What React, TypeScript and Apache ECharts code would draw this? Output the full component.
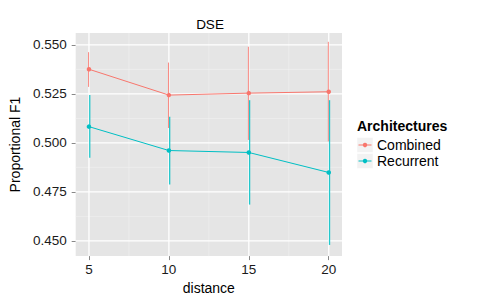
import React, { useEffect, useRef } from "react";
import * as echarts from "echarts";

const distances = [5, 10, 15, 20];
const combinedMean = [0.5376, 0.5244, 0.5254, 0.5261];
const combinedLow = [0.5286, 0.5076, 0.5015, 0.5007];
const combinedHigh = [0.5463, 0.541, 0.5491, 0.5516];
const recurrentMean = [0.5083, 0.4961, 0.4951, 0.4849];
const recurrentLow = [0.4924, 0.4788, 0.4685, 0.4479];
const recurrentHigh = [0.5244, 0.5133, 0.5218, 0.5218];

const seriesNames = ["Combined", "Recurrent"];
const xTicks = [5, 10, 15, 20];
const xMinor = [7.5, 12.5, 17.5];
const yTicks = [0.45, 0.475, 0.5, 0.525, 0.55];
const yMinor = [0.4625, 0.4875, 0.5125, 0.5375];

const X_MIN = 4.17;
const X_MAX = 20.83;
const Y_MIN = 0.4422;
const Y_MAX = 0.5561;

const RED = "#F8766D";
const TEAL = "#00BFC4";
const COLORS = [RED, TEAL];
const FONT = "'Liberation Sans', Arial, Helvetica, sans-serif";

function vLines(values: number[], color: string, width: number, z: number) {
  return {
    type: "custom",
    silent: true,
    z,
    data: values.map((v) => [v, Y_MIN]),
    renderItem: (_p: any, api: any) => {
      const x = api.value(0);
      const a = api.coord([x, Y_MIN]);
      const b = api.coord([x, Y_MAX]);
      return {
        type: "line",
        shape: { x1: a[0], y1: a[1], x2: b[0], y2: b[1] },
        style: { stroke: color, lineWidth: width },
      };
    },
  };
}

function hLines(values: number[], color: string, width: number, z: number) {
  return {
    type: "custom",
    silent: true,
    z,
    data: values.map((v) => [X_MIN, v]),
    renderItem: (_p: any, api: any) => {
      const y = api.value(1);
      const a = api.coord([X_MIN, y]);
      const b = api.coord([X_MAX, y]);
      return {
        type: "line",
        shape: { x1: a[0], y1: a[1], x2: b[0], y2: b[1] },
        style: { stroke: color, lineWidth: width },
      };
    },
  };
}

function errorBars(low: number[], high: number[], color: string, dx: number, width: number) {
  return {
    type: "custom",
    silent: true,
    z: 3,
    data: distances.map((d, i) => [d, low[i], high[i]]),
    encode: { x: 0, y: [1, 2] },
    renderItem: (_p: any, api: any) => {
      const x = api.value(0);
      const a = api.coord([x, api.value(1)]);
      const b = api.coord([x, api.value(2)]);
      return {
        type: "line",
        shape: { x1: a[0] + dx, y1: a[1], x2: b[0] + dx, y2: b[1] },
        style: { stroke: color, lineWidth: width, opacity: 0.85 },
      };
    },
  };
}

function legendGraphics() {
  const items: any[] = [
    {
      type: "text",
      left: 357,
      top: 119,
      z: 5,
      style: {
        text: "Architectures",
        fontSize: 14,
        fontWeight: "bold",
        fill: "#000",
        fontFamily: FONT,
      },
    },
  ];
  seriesNames.forEach((name, i) => {
    const y0 = 137.5 + i * 16;
    const cy = y0 + 7.5;
    items.push(
      {
        type: "rect",
        z: 1,
        shape: { x: 357, y: y0, width: 16, height: 15 },
        style: { fill: "#F2F2F2", stroke: "#ffffff", lineWidth: 0.5 },
      },
      {
        type: "line",
        z: 2,
        shape: { x1: 358.5, y1: cy, x2: 371.5, y2: cy },
        style: { stroke: COLORS[i], lineWidth: 1 },
      },
      {
        type: "circle",
        z: 3,
        shape: { cx: 365, cy, r: 2.2 },
        style: { fill: COLORS[i] },
      },
      {
        type: "text",
        z: 3,
        x: 377,
        y: cy,
        style: {
          text: name,
          fontSize: 14,
          fill: "#000",
          fontFamily: FONT,
          verticalAlign: "middle",
        },
      }
    );
  });
  return items;
}

export default function App() {
  const ref = useRef<HTMLDivElement>(null);

  useEffect(() => {
    if (!ref.current) return;
    const chart = echarts.init(ref.current, null, { renderer: "svg" });
    chart.setOption({
      animation: false,
      backgroundColor: "#ffffff",
      textStyle: { fontFamily: FONT },
      title: {
        text: "DSE",
        left: 205,
        top: 12,
        textAlign: "center",
        textStyle: { fontSize: 13.5, fontWeight: "normal", color: "#000", fontFamily: FONT },
      },
      grid: {
        left: 68,
        top: 33,
        width: 274,
        height: 224,
        show: true,
        backgroundColor: "#E5E5E5",
        borderWidth: 0,
      },
      graphic: legendGraphics(),
      xAxis: {
        type: "value",
        min: X_MIN,
        max: X_MAX,
        splitLine: { show: false },
        axisLine: { show: false },
        axisTick: {
          show: true,
          length: 4,
          customValues: xTicks,
          lineStyle: { color: "#888", width: 1 },
        },
        axisLabel: {
          customValues: xTicks,
          margin: 6,
          fontSize: 13.5,
          color: "#1a1a1a",
          fontFamily: FONT,
        },
        name: "distance",
        nameLocation: "middle",
        nameGap: 20,
        nameTextStyle: { fontSize: 14, color: "#000", fontFamily: FONT },
      },
      yAxis: {
        type: "value",
        min: Y_MIN,
        max: Y_MAX,
        splitLine: { show: false },
        axisLine: { show: false },
        axisTick: {
          show: true,
          length: 4,
          customValues: yTicks,
          lineStyle: { color: "#888", width: 1 },
        },
        axisLabel: {
          customValues: yTicks,
          margin: 9,
          fontSize: 13.5,
          color: "#1a1a1a",
          fontFamily: FONT,
          formatter: (v: number) => v.toFixed(3),
        },
        name: "Proportional F1",
        nameLocation: "middle",
        nameGap: 42,
        nameTextStyle: { fontSize: 14, color: "#000", fontFamily: FONT },
      },
      series: [
        vLines(xMinor, "#F2F2F2", 0.6, 1),
        hLines(yMinor, "#F2F2F2", 0.6, 1),
        vLines(xTicks, "#FFFFFF", 1.3, 1),
        hLines(yTicks, "#FFFFFF", 1.3, 1),
        errorBars(combinedLow, combinedHigh, RED, -0.4, 1),
        errorBars(recurrentLow, recurrentHigh, TEAL, 0.8, 1.3),
        {
          name: seriesNames[0],
          type: "line",
          z: 4,
          data: distances.map((d, i) => [d, combinedMean[i]]),
          symbol: "circle",
          symbolSize: 4.5,
          itemStyle: { color: RED },
          lineStyle: { color: RED, width: 1 },
        },
        {
          name: seriesNames[1],
          type: "line",
          z: 4,
          data: distances.map((d, i) => [d, recurrentMean[i]]),
          symbol: "circle",
          symbolSize: 4.5,
          itemStyle: { color: TEAL },
          lineStyle: { color: TEAL, width: 1 },
        },
      ],
    });
    return () => chart.dispose();
  }, []);

  return (
    <div
      ref={ref}
      style={{ position: "fixed", left: 0, top: 0, width: 480, height: 300 }}
    />
  );
}
